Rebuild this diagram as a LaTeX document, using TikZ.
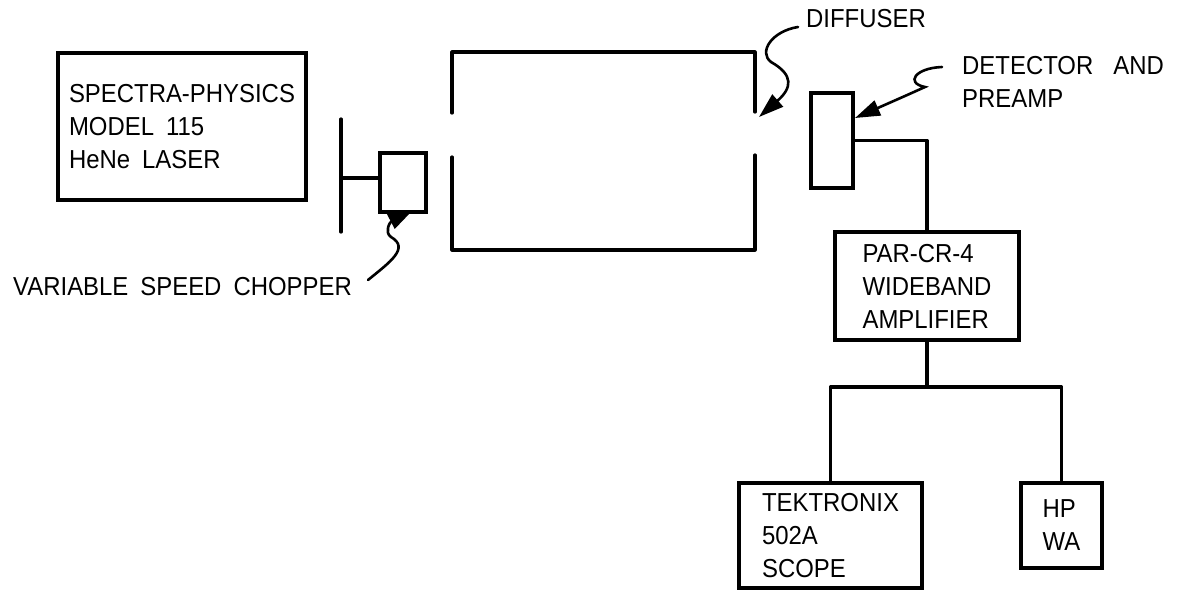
\documentclass[tikz,border=0pt]{standalone}
\usepackage{fontspec}
\setmainfont{Liberation Sans}[FakeStretch=0.92]
\usetikzlibrary{arrows.meta}
\newcommand\wgap{\hspace{20pt}}
\newcommand\lblfont{\fontsize{26}{33}\selectfont\spaceskip=12pt plus 2pt minus 2pt\relax}
\begin{document}
\begin{tikzpicture}[x=1pt,y=-1pt,
  lbl/.style={font=\lblfont, inner sep=0pt, align=left},
  box/.style={draw, line width=3.2pt, lbl},
  wire/.style={line width=3.2pt, line cap=round, line join=round},
  pointer/.style={line width=2.6pt, line cap=round, -{Triangle[length=25pt,width=16pt]}}]
\useasboundingbox (0,0) rectangle (1180,590);

% boxes
\node[box, minimum width=248pt, minimum height=147pt] (laser) at (182,126.5)
  {SPECTRA-PHYSICS\\MODEL 115\\HeNe LASER};
\node[box, minimum width=46pt, minimum height=59pt] (chop) at (403,182.5) {};
\node[box, minimum width=42pt, minimum height=95pt] (det) at (832,140.5) {};
\node[box, minimum width=184pt, minimum height=108pt] (amp) at (927,286)
  {PAR-CR-4\\WIDEBAND\\AMPLIFIER};
\node[box, minimum width=183pt, minimum height=105pt] (tek) at (830.5,535.5)
  {TEKTRONIX\\502A\\SCOPE};
\node[box, minimum width=81pt, minimum height=85pt] (hp) at (1061.5,525.5)
  {HP\\WA};

% tube (gapped enclosure)
\draw[wire] (452,113) -- (452,52) -- (755,52) -- (755,112);
\draw[wire] (452,157) -- (452,250) -- (755,250) -- (755,155);

% chopper blade
\coordinate (bladeTop) at (341,119);
\coordinate (bladeBot) at (341,232);
\coordinate (bladeMid) at (341,178);
\draw[wire] (bladeTop) -- (bladeBot);
\draw[wire] (bladeMid) -- (bladeMid -| chop.west);

% signal wiring
\draw[wire] (det.east) -| (amp.north);
\coordinate (bus) at (927,387);
\draw[wire] (amp.south) -- (bus);
\draw[wire] (tek.north) |- (bus) -| (hp.north);

% labels
\node[lbl, anchor=base west] (difflbl) at (806,27) {DIFFUSER};
\node[lbl, anchor=north west] (detlbl) at (962,56) {DETECTOR\wgap AND\\PREAMP};
\node[lbl, anchor=base west] (choplbl) at (13,295) {VARIABLE SPEED CHOPPER};

% pointers
\coordinate (diffS) at (798,27);
\coordinate (diffT) at (759,117);
\draw[pointer] (diffS) .. controls (772,31) and (758,52) .. (771,62)
  .. controls (794,75) and (792,88) .. (diffT);
\coordinate (detS) at (942,67);
\coordinate (detT) at (855,118);
\draw[pointer] (detS) .. controls (915,68) and (905,83) .. (925,87)
  .. controls (905,96) .. (detT);
\coordinate (chopS) at (368,280);
\coordinate (chopT) at (413,210);
\draw[pointer] (chopS) .. controls (390,262) and (410,248) .. (391,237)
  .. controls (384,232) and (390,222) .. (chopT);
\end{tikzpicture}
\end{document}
